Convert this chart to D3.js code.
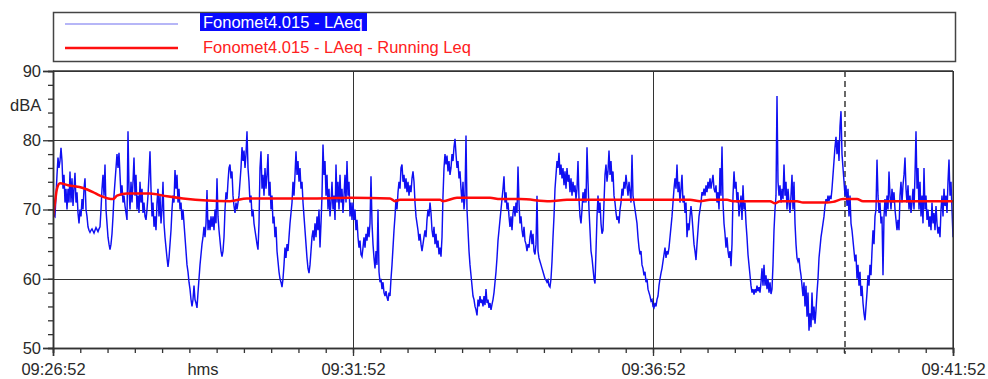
<!DOCTYPE html>
<html>
<head>
<meta charset="utf-8">
<script src="https://cdn.jsdelivr.net/npm/d3@7"></script>
<style>
  body { margin: 0; background: #fff; }
  text { font-family: "Liberation Sans", Arial, sans-serif; }
</style>
</head>
<body>
<div id="chart"></div>
<script>
// LAeq, one value per second from 09:26:52 (dBA)
var laeqValues = [
  69.5, 69.2, 69, 72, 75, 77.5, 76, 77, 78.9, 77,
  73, 75, 71, 73, 70, 73, 71, 75.5, 71, 74.5,
  70.5, 73, 75.3, 71, 72.5, 69.5, 68, 70, 69, 71.5,
  70, 73, 74.5, 70, 69, 67.5, 67, 66.7, 67, 67.2,
  66.9, 66.6, 67, 67.4, 67.1, 66.8, 67.2, 67.5, 70, 73,
  75, 72, 76.5, 70, 68, 66, 65, 64.2, 65, 66.5,
  69, 72, 74, 76, 78, 76, 78.2, 75, 72, 73.5,
  71, 72, 70.5, 69.5, 68.5, 81.3, 73, 70, 74, 71,
  74, 77.5, 72, 75, 70, 72, 69.5, 74, 71, 73,
  69.5, 71, 69, 68.5, 70, 72, 75, 78.4, 73, 69,
  71, 67.5, 69, 67, 71, 73, 69, 72, 68, 70,
  74, 68, 66, 64.5, 63, 61.7, 63, 65, 67, 70,
  72, 71, 75.7, 73, 75, 71, 73, 70, 71, 68.5,
  70, 68, 66, 64, 62, 61, 59.5, 58.5, 57, 56,
  57, 59, 57, 56.5, 55.8, 58, 60, 62, 63.5, 65,
  66, 67.5, 66, 68, 72.8, 67, 68.5, 67, 69, 67.5,
  69, 67, 70, 68, 74.5, 69, 67, 65.5, 64, 63.2,
  64, 66, 70, 72.5, 71.5, 74, 76, 76.5, 74.5, 75.5,
  72, 70.5, 69.5, 71, 70, 71, 72, 74, 76, 79,
  77, 78.5, 76, 78, 81.3, 76, 74, 71, 72, 69,
  70, 68, 67, 66, 65, 64.2, 68, 76, 78.4, 73,
  75, 72, 76, 73, 75, 78, 72, 74, 70, 72,
  68, 69, 66, 67.5, 64, 62.5, 61, 60, 59.5, 58.8,
  60, 62, 64.5, 63, 65, 64, 66, 68, 69.5, 71,
  74, 72, 75, 78.4, 75, 77, 74, 76, 73, 74,
  71, 69, 67, 65, 63, 61.5, 60.8, 62, 64, 66,
  67, 65.5, 68, 66, 69, 67, 70, 64.5, 68, 72,
  79.4, 75, 77, 72, 75, 70, 73, 69, 71, 74,
  70, 72, 68.5, 76.5, 71, 74, 70, 75, 71, 73,
  69.5, 72, 75, 71, 77, 72, 74, 69, 71, 68.5,
  71, 68.5, 70, 67, 68.5, 66, 64.5, 65.5, 63.5, 63.2,
  64.5, 66, 64.5, 66.5, 65.5, 67.5, 66, 68, 74.8, 68,
  65, 63, 61.5, 64, 62, 70, 61, 59.5, 60, 58.5,
  59.5, 58, 57.5, 58.2, 57.3, 56.8, 58, 57.5, 60, 62,
  64.5, 67, 69, 71.5, 70, 72.5, 74, 73, 76, 76.5,
  74, 75, 73, 74.5, 72.5, 74, 72, 73.5, 72.5, 74.5,
  75.5, 74, 71, 69, 68, 67, 65.5, 66.5, 65, 64,
  65, 66, 67, 66, 68.5, 70, 69, 71, 69.5, 67,
  66, 67.5, 65, 66.5, 64.5, 65.5, 63.5, 64.5, 63.2, 66,
  72, 76, 78, 76.5, 77.8, 75.5, 77, 75, 76, 78,
  77, 79, 80.2, 78, 76, 77, 74.5, 75.5, 73, 71,
  74, 70, 72, 80.7, 70, 67, 64, 62, 60.5, 59,
  57.5, 57, 56, 55.5, 54.7, 57, 56, 57.5, 56.5, 57,
  56, 57.5, 56.2, 58.5, 56.5, 57, 55.8, 56.5, 55.5, 56.3,
  57, 58, 59.5, 61, 63, 65.5, 67, 68.5, 70, 71.5,
  73, 74.8, 71, 72.5, 70, 71, 69, 67.5, 69, 67,
  69.5, 70.5, 69, 71, 69.5, 76.2, 71, 68, 69, 67,
  66, 67.5, 65.5, 65, 64, 65, 64.5, 66, 67, 65,
  66.5, 64, 63.5, 65, 72, 64, 63, 62.5, 62, 61.5,
  61, 60.5, 60, 59.8, 59.5, 59.8, 59, 58.8, 60, 62.5,
  66, 69, 73, 75, 77, 76, 78.2, 75, 76.5, 74.5,
  76, 73.5, 75.5, 73, 76, 74, 75, 72.5, 74.5, 72,
  74, 72.5, 73.5, 71.5, 73, 77, 71.5, 69, 68, 70,
  72.5, 71, 73, 71, 79, 74, 70, 67, 64, 63,
  61.5, 60, 59.3, 64, 69, 72, 69.5, 71, 68, 66.5,
  67, 71, 75, 76.5, 74, 75.5, 78.5, 75, 77, 74,
  75.5, 72, 71, 69.5, 68.5, 69, 68, 70, 71, 73,
  72, 74, 73, 75, 73.5, 72, 74, 72.5, 71, 77.9,
  72, 71, 70, 69, 68, 66, 64.5, 63.5, 64, 62,
  61.5, 60.5, 61, 59.5, 60, 58.5, 58, 57.5, 56.8, 57,
  56, 55.8, 56.5, 56, 57, 57.5, 59, 60, 60.8, 61.5,
  62.5, 63.5, 64.5, 63, 64, 63.5, 64.5, 66, 67.5, 69,
  71, 73, 74.5, 73, 76.5, 72.5, 74, 71, 73, 75,
  71, 72, 69.5, 71, 66, 68, 67, 69, 70.5, 69,
  67, 65, 64, 62.7, 65, 67, 69, 70, 71, 72.5,
  72, 73, 72, 73.5, 72.5, 74, 73, 74.5, 73, 74,
  75, 73, 72.5, 73.5, 71, 72.5, 70, 76, 72, 79.1,
  71, 68, 66.5, 64.5, 66, 64, 63, 64, 61.8, 65,
  72, 75.5, 73, 74, 71, 72.5, 69, 70.5, 72, 68.5,
  73.5, 70, 71, 68, 66, 63.5, 62, 60.5, 59, 58,
  58.5, 57.7, 58.5, 58, 59, 58.2, 58.8, 58, 59.5, 61.5,
  59, 62, 59, 60.5, 58.5, 60, 58, 59.5, 57.8, 58.5,
  62, 67, 70, 72, 86.4, 74, 72, 73.5, 71, 73,
  71.5, 76.5, 72, 74, 70, 73, 71, 69.5, 72, 75,
  70, 74, 68, 65, 63, 62.5, 63, 61.5, 60.5, 59,
  57.5, 59.5, 56, 59, 54.5, 58, 52.5, 55, 53, 58,
  54, 56, 53.5, 55.5, 58, 60, 63, 64.5, 66, 67,
  68, 69, 70.5, 71.5, 71, 72, 71.2, 72, 71.5, 73,
  75, 77, 79, 80.5, 78, 80, 77, 82, 84.2, 78,
  76, 74, 72, 73.5, 70.5, 73, 69, 72, 68, 67,
  65.5, 64, 62.5, 63.5, 60, 62, 59, 61, 57.5, 59,
  56.5, 55, 54, 56, 58, 60.5, 59, 62, 60.5, 64,
  67, 65, 69, 70, 77.2, 72, 69.5, 71, 68, 69,
  60.5, 69, 71.5, 69, 72, 70, 75.5, 72, 70, 73,
  71, 72.5, 70, 68.5, 67, 68.5, 67, 72, 74, 71,
  73.5, 75, 77.5, 73, 71, 73.5, 70, 72, 69.5, 71,
  73, 70, 75, 81.3, 73, 76, 70, 74, 69, 72,
  68, 76, 70, 72, 68.5, 70, 67.5, 69, 67, 71,
  68, 69.5, 67, 70.5, 68, 66.5, 67.5, 66, 70, 72,
  69, 73, 70.5, 72, 69.5, 74, 77.2, 72, 74, 70,
  66
];

// running Leq, [seconds, dBA]
var runningLeq = [
  [0,68.8],[2,71],[4,73],[7,73.8],[15,73.5],[30,73.1],[40,72.5],[47,72],[55,71.6],[60,71.5],[64,72],
  [74,72.3],[97,72.3],[114,71.9],[130,71.6],[154,71.3],[177,71.2],[194,71.6],[230,71.6],[264,71.6],
  [297,71.7],[337,71.6],[342,71.2],[347,71.4],[387,71.4],[390,71.2],[404,71.7],[437,71.7],[447,71.5],
  [467,71.5],[497,71.2],[514,71.4],[597,71.4],[637,71.4],[647,71.2],[657,71.4],[674,71.4],[680,71.2],
  [717,71.2],[722,70.9],[727,71.2],[744,71.2],[750,71.0],[774,71.0],[780,71.1],[790,71.5],[804,71.5],
  [810,71.2],[900,71.2]
];

var timeTicks = [0, 300, 600, 900];
var timeLabels = ["09:26:52", "09:31:52", "09:36:52", "09:41:52"];
var dbTicks = [50, 60, 70, 80, 90];
var cursorSec = 792;
var seriesNames = ["Fonomet4.015 - LAeq", "Fonomet4.015 - LAeq - Running Leq"];

var W = 988, H = 379;
var margin = {top: 71, right: 35, bottom: 31, left: 53},
    width = W - margin.left - margin.right,
    height = H - margin.top - margin.bottom;

var svg = d3.select("#chart").append("svg")
  .attr("width", W)
  .attr("height", H);

var x = d3.scaleLinear().domain([0, 900]).range([margin.left, margin.left + width]);
var y = d3.scaleLinear().domain([50, 90]).range([margin.top + height, margin.top]);

// legend box
var legend = svg.append("g");
legend.append("rect")
  .attr("x", 53.5).attr("y", 12.5)
  .attr("width", 902).attr("height", 49)
  .attr("fill", "#fff").attr("stroke", "#444").attr("stroke-width", 1.5);
legend.append("line")
  .attr("x1", 65).attr("x2", 178).attr("y1", 24).attr("y2", 24)
  .attr("stroke", "#6f6ff0").attr("stroke-width", 1.2);
legend.append("line")
  .attr("x1", 65).attr("x2", 178).attr("y1", 48).attr("y2", 48)
  .attr("stroke", "#ff1010").attr("stroke-width", 2.5);
legend.append("rect")
  .attr("x", 200).attr("y", 13).attr("width", 167).attr("height", 18)
  .attr("fill", "#0a0aff");
legend.append("text")
  .attr("x", 203).attr("y", 28)
  .attr("font-size", 16.5).attr("fill", "#fff")
  .text(seriesNames[0]);
legend.append("text")
  .attr("x", 203).attr("y", 53)
  .attr("font-size", 16.5).attr("fill", "#ff2020")
  .text(seriesNames[1]);

// grid
var grid = svg.append("g").attr("stroke", "#333").attr("stroke-width", 1);
grid.selectAll(".hg").data(dbTicks.slice(1))
  .enter().append("line")
  .attr("x1", x(0)).attr("x2", x(900))
  .attr("y1", function(d) { return Math.round(y(d)) + 0.5; })
  .attr("y2", function(d) { return Math.round(y(d)) + 0.5; });
grid.selectAll(".vg").data(timeTicks)
  .enter().append("line")
  .attr("x1", function(d) { return Math.round(x(d)) + 0.5; })
  .attr("x2", function(d) { return Math.round(x(d)) + 0.5; })
  .attr("y1", y(90)).attr("y2", y(50));

// dashed cursor
svg.append("line")
  .attr("x1", x(cursorSec)).attr("x2", x(cursorSec))
  .attr("y1", y(90)).attr("y2", y(50) + 6)
  .attr("stroke", "#444").attr("stroke-width", 1.6)
  .attr("stroke-dasharray", "6,4");

// series
svg.append("clipPath").attr("id", "plot")
  .append("rect").attr("x", x(0)).attr("y", y(90)).attr("width", width).attr("height", height);

svg.append("path")
  .datum(laeqValues)
  .attr("clip-path", "url(#plot)")
  .attr("fill", "none")
  .attr("stroke", "#0f0ff2")
  .attr("stroke-width", 1.45)
  .attr("d", d3.line()
    .x(function(d, i) { return x(i); })
    .y(function(d) { return y(d); }));

svg.append("path")
  .datum(runningLeq)
  .attr("clip-path", "url(#plot)")
  .attr("fill", "none")
  .attr("stroke", "#ff0a0a")
  .attr("stroke-width", 2.5)
  .attr("d", d3.line()
    .curve(d3.curveMonotoneX)
    .x(function(d) { return x(d[0]); })
    .y(function(d) { return y(d[1]); }));

// axes
var yMinor = d3.axisLeft(y).tickValues(d3.range(50, 90.1, 2)).tickSize(5).tickFormat("");
var yMajor = d3.axisLeft(y).tickValues(dbTicks).tickSize(10).tickPadding(2);
var xMinor = d3.axisBottom(x).tickValues(d3.range(0, 900.1, 300 / 11)).tickSize(5).tickFormat("");
var xMajor = d3.axisBottom(x).tickValues(timeTicks).tickSize(8).tickPadding(7)
  .tickFormat(function(d, i) { return timeLabels[i]; });

[yMinor, yMajor].forEach(function(a) {
  svg.append("g").attr("transform", "translate(" + margin.left + ",0)").call(a);
});
[xMinor, xMajor].forEach(function(a) {
  svg.append("g").attr("transform", "translate(0," + (margin.top + height) + ")").call(a);
});
svg.selectAll(".domain").attr("stroke", "#333").attr("stroke-width", 1.5);
svg.selectAll(".tick line").attr("stroke", "#333").attr("stroke-width", 1.3);
svg.selectAll(".tick text")
  .attr("font-family", "'Liberation Sans', Arial, sans-serif")
  .attr("font-size", 16.5).attr("fill", "#2a2a2a");

// top and right frame
svg.append("line").attr("x1", x(0)).attr("x2", x(900)).attr("y1", y(90)).attr("y2", y(90))
  .attr("stroke", "#333").attr("stroke-width", 1.5);
svg.append("line").attr("x1", x(900)).attr("x2", x(900)).attr("y1", y(90)).attr("y2", y(50))
  .attr("stroke", "#333").attr("stroke-width", 1.2);

svg.append("text")
  .attr("x", 10).attr("y", 111)
  .attr("font-size", 16.5).attr("fill", "#2a2a2a")
  .text("dBA");
svg.append("text")
  .attr("x", 203).attr("y", 375)
  .attr("text-anchor", "middle")
  .attr("font-size", 16.5).attr("fill", "#2a2a2a")
  .text("hms");
</script>
</body>
</html>
